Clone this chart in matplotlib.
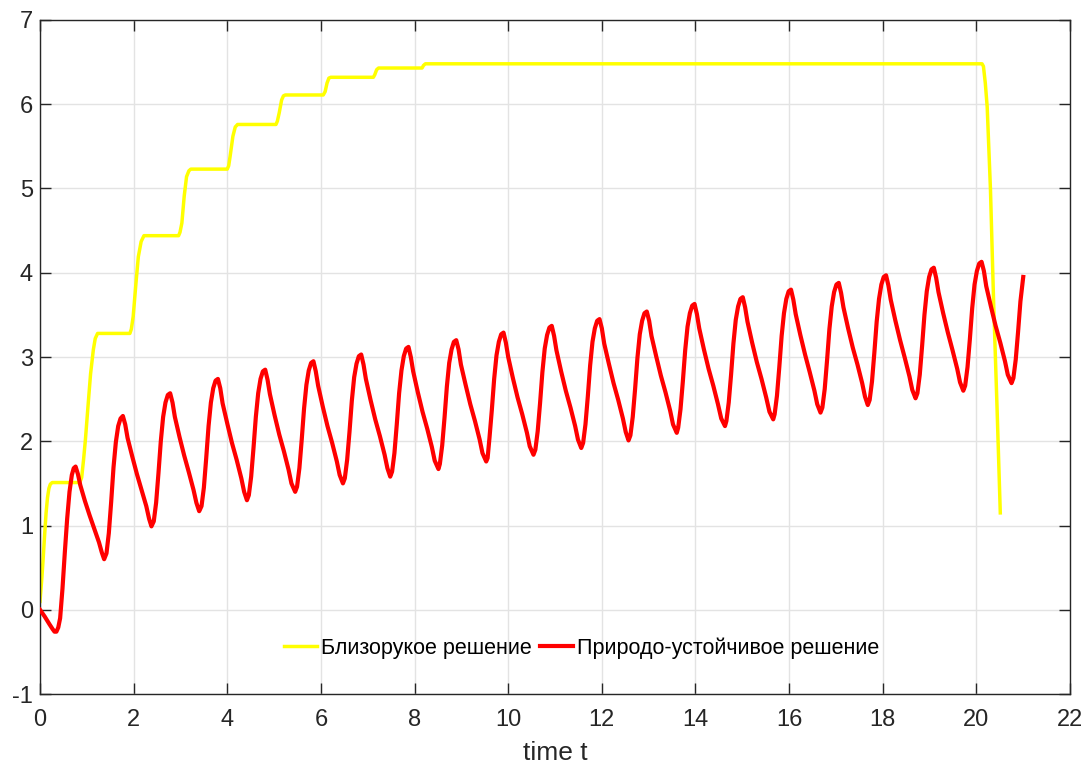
import matplotlib
matplotlib.use('Agg')
import matplotlib.pyplot as plt

plt.rcParams['font.family'] = ['Liberation Sans', 'DejaVu Sans']
plt.rcParams['axes.unicode_minus'] = False

# Близорукое решение
t_myopic = [0.00, 0.04, 0.07, 0.10, 0.13, 0.16, 0.19, 0.22, 0.26,
            0.85, 0.89, 0.93, 0.97, 1.03, 1.08, 1.14, 1.18, 1.23,
            1.92, 1.95, 1.99, 2.05, 2.10, 2.16, 2.22,
            2.96, 2.99, 3.03, 3.08, 3.13, 3.18, 3.22,
            4.00, 4.03, 4.06, 4.12, 4.17, 4.22,
            5.04, 5.07, 5.11, 5.16, 5.20, 5.24,
            6.05, 6.09, 6.13, 6.17, 6.21,
            7.12, 7.15, 7.19, 7.23,
            8.16, 8.19, 8.23,
            20.12, 20.15, 20.19, 20.23, 20.30, 20.37, 20.44, 20.51]
y_myopic = [0.10, 0.38, 0.63, 0.90, 1.15, 1.33, 1.44, 1.49, 1.51,
            1.51, 1.57, 1.78, 2.02, 2.45, 2.80, 3.09, 3.22, 3.28,
            3.28, 3.33, 3.48, 3.88, 4.19, 4.37, 4.44,
            4.44, 4.48, 4.59, 4.91, 5.14, 5.21, 5.23,
            5.23, 5.27, 5.38, 5.62, 5.73, 5.76,
            5.76, 5.80, 5.90, 6.05, 6.10, 6.11,
            6.11, 6.15, 6.25, 6.31, 6.32,
            6.32, 6.35, 6.41, 6.43,
            6.43, 6.46, 6.48,
            6.48, 6.45, 6.25, 5.97, 4.99, 3.60, 2.41, 1.15]

# Природо-устойчивое решение
t_sustain = [0.00, 0.10, 0.20, 0.27, 0.31, 0.35, 0.39, 0.43, 0.48, 0.53, 0.58, 0.63, 0.68, 0.72, 0.76, 0.81, 0.86, 0.96, 1.06, 1.16, 1.26, 1.32,
             1.37, 1.42, 1.47, 1.52, 1.57, 1.62, 1.67, 1.72, 1.77, 1.82, 1.87, 1.97, 2.07, 2.17, 2.27, 2.33,
             2.38, 2.43, 2.48, 2.53, 2.58, 2.63, 2.68, 2.73, 2.78, 2.83, 2.88, 2.98, 3.08, 3.18, 3.28, 3.34,
             3.40, 3.45, 3.50, 3.55, 3.60, 3.65, 3.70, 3.75, 3.80, 3.85, 3.90, 4.00, 4.10, 4.20, 4.30, 4.36,
             4.42, 4.46, 4.51, 4.56, 4.61, 4.66, 4.71, 4.76, 4.81, 4.86, 4.91, 5.01, 5.11, 5.21, 5.31, 5.37,
             5.45, 5.49, 5.54, 5.59, 5.64, 5.69, 5.74, 5.79, 5.84, 5.89, 5.94, 6.04, 6.14, 6.24, 6.34, 6.40,
             6.47, 6.51, 6.56, 6.61, 6.66, 6.71, 6.76, 6.81, 6.86, 6.91, 6.96, 7.06, 7.16, 7.26, 7.36, 7.42,
             7.48, 7.52, 7.57, 7.62, 7.67, 7.72, 7.77, 7.82, 7.87, 7.92, 7.97, 8.07, 8.17, 8.27, 8.37, 8.43,
             8.51, 8.54, 8.59, 8.64, 8.69, 8.74, 8.79, 8.84, 8.89, 8.94, 8.99, 9.09, 9.19, 9.29, 9.39, 9.45,
             9.53, 9.56, 9.60, 9.65, 9.70, 9.75, 9.80, 9.85, 9.90, 9.95, 10.00, 10.10, 10.20, 10.30, 10.40, 10.46,
             10.54, 10.58, 10.63, 10.68, 10.73, 10.78, 10.83, 10.88, 10.93, 10.98, 11.03, 11.13, 11.23, 11.33, 11.43, 11.49,
             11.56, 11.60, 11.65, 11.70, 11.75, 11.80, 11.85, 11.90, 11.95, 12.00, 12.05, 12.15, 12.25, 12.35, 12.45, 12.51,
             12.57, 12.61, 12.66, 12.71, 12.76, 12.81, 12.86, 12.91, 12.96, 13.01, 13.06, 13.16, 13.26, 13.36, 13.46, 13.52,
             13.60, 13.63, 13.68, 13.73, 13.78, 13.83, 13.88, 13.93, 13.98, 14.03, 14.08, 14.18, 14.28, 14.38, 14.48, 14.55,
             14.63, 14.66, 14.71, 14.76, 14.81, 14.86, 14.91, 14.96, 15.01, 15.06, 15.11, 15.21, 15.31, 15.41, 15.51, 15.58,
             15.66, 15.69, 15.74, 15.79, 15.84, 15.89, 15.94, 15.99, 16.04, 16.09, 16.14, 16.24, 16.34, 16.44, 16.54, 16.60,
             16.67, 16.71, 16.76, 16.81, 16.86, 16.91, 16.96, 17.01, 17.06, 17.11, 17.16, 17.26, 17.36, 17.46, 17.56, 17.62,
             17.68, 17.72, 17.77, 17.82, 17.87, 17.92, 17.97, 18.02, 18.07, 18.12, 18.17, 18.27, 18.37, 18.47, 18.57, 18.63,
             18.70, 18.74, 18.79, 18.84, 18.89, 18.94, 18.99, 19.04, 19.09, 19.14, 19.19, 19.29, 19.39, 19.49, 19.59, 19.65,
             19.72, 19.76, 19.81, 19.86, 19.91, 19.96, 20.01, 20.06, 20.11, 20.16, 20.21, 20.31, 20.41, 20.51, 20.61, 20.67,
             20.75, 20.79, 20.84, 20.89, 20.94, 21.00]
y_sustain = [0.00, -0.08, -0.17, -0.23, -0.26, -0.26, -0.21, -0.10, 0.25, 0.68, 1.08, 1.40, 1.60, 1.68, 1.70, 1.61, 1.48, 1.29, 1.12, 0.96, 0.80, 0.68,
             0.60, 0.67, 0.91, 1.28, 1.69, 1.99, 2.18, 2.27, 2.30, 2.20, 2.04, 1.82, 1.61, 1.42, 1.23, 1.08,
             0.99, 1.05, 1.27, 1.62, 2.00, 2.29, 2.46, 2.55, 2.57, 2.46, 2.29, 2.05, 1.83, 1.63, 1.42, 1.27,
             1.17, 1.23, 1.45, 1.80, 2.18, 2.46, 2.63, 2.72, 2.74, 2.63, 2.45, 2.21, 1.98, 1.78, 1.56, 1.40,
             1.30, 1.36, 1.58, 1.92, 2.29, 2.57, 2.74, 2.83, 2.85, 2.73, 2.56, 2.31, 2.08, 1.88, 1.66, 1.50,
             1.40, 1.46, 1.68, 2.02, 2.39, 2.67, 2.84, 2.93, 2.95, 2.83, 2.66, 2.41, 2.18, 1.98, 1.76, 1.60,
             1.50, 1.56, 1.78, 2.11, 2.48, 2.76, 2.92, 3.01, 3.03, 2.91, 2.74, 2.49, 2.26, 2.06, 1.84, 1.68,
             1.58, 1.64, 1.86, 2.20, 2.57, 2.84, 3.01, 3.10, 3.12, 3.00, 2.83, 2.58, 2.35, 2.15, 1.93, 1.77,
             1.67, 1.73, 1.95, 2.28, 2.65, 2.93, 3.09, 3.18, 3.20, 3.09, 2.91, 2.67, 2.44, 2.24, 2.02, 1.86,
             1.76, 1.80, 2.04, 2.37, 2.74, 3.02, 3.18, 3.27, 3.29, 3.17, 3.00, 2.75, 2.52, 2.32, 2.10, 1.94,
             1.84, 1.90, 2.12, 2.45, 2.82, 3.10, 3.26, 3.35, 3.37, 3.25, 3.08, 2.83, 2.60, 2.40, 2.18, 2.02,
             1.92, 1.98, 2.20, 2.53, 2.90, 3.18, 3.34, 3.43, 3.45, 3.34, 3.16, 2.92, 2.69, 2.49, 2.27, 2.11,
             2.01, 2.07, 2.29, 2.62, 2.99, 3.27, 3.43, 3.52, 3.54, 3.43, 3.25, 3.01, 2.78, 2.58, 2.36, 2.20,
             2.10, 2.16, 2.38, 2.71, 3.08, 3.36, 3.52, 3.61, 3.63, 3.51, 3.34, 3.09, 2.86, 2.66, 2.44, 2.27,
             2.18, 2.24, 2.46, 2.79, 3.16, 3.44, 3.60, 3.69, 3.71, 3.59, 3.42, 3.17, 2.94, 2.74, 2.52, 2.35,
             2.26, 2.32, 2.54, 2.88, 3.25, 3.52, 3.69, 3.78, 3.80, 3.68, 3.51, 3.26, 3.03, 2.82, 2.60, 2.44,
             2.34, 2.40, 2.62, 2.96, 3.33, 3.60, 3.77, 3.86, 3.88, 3.76, 3.59, 3.34, 3.11, 2.91, 2.69, 2.53,
             2.43, 2.49, 2.71, 3.05, 3.42, 3.69, 3.86, 3.95, 3.97, 3.85, 3.68, 3.43, 3.20, 2.99, 2.77, 2.61,
             2.51, 2.57, 2.79, 3.13, 3.50, 3.78, 3.95, 4.04, 4.06, 3.94, 3.77, 3.52, 3.29, 3.08, 2.86, 2.70,
             2.60, 2.66, 2.88, 3.21, 3.58, 3.86, 4.02, 4.11, 4.13, 4.02, 3.84, 3.60, 3.37, 3.17, 2.95, 2.79,
             2.69, 2.75, 2.97, 3.30, 3.66, 3.95]

labels = ['Близорукое решение', 'Природо-устойчивое решение']
x_ticks = [0, 2, 4, 6, 8, 10, 12, 14, 16, 18, 20, 22]
y_ticks = [-1, 0, 1, 2, 3, 4, 5, 6, 7]

fig = plt.figure(figsize=(10.9, 7.63), dpi=100)
ax = fig.add_axes([0.0367, 0.0904, 0.945, 0.8834])

ax.plot(t_myopic, y_myopic, color='#FFFF00', lw=2.5, label=labels[0],
        solid_joinstyle='round', zorder=2)
ax.plot(t_sustain, y_sustain, color='#FF0000', lw=3.0, label=labels[1],
        solid_joinstyle='round', zorder=3)

ax.set_xlim(0, 22)
ax.set_ylim(-1, 7)
ax.set_xticks(x_ticks)
ax.set_yticks(y_ticks)
ax.grid(True, color='#e3e3e3', lw=1.0)
ax.set_axisbelow(True)

for s in ax.spines.values():
    s.set_color('#262626')
    s.set_linewidth(1.0)
ax.tick_params(direction='in', length=8, width=1.0, colors='#262626',
               top=True, right=True, labelsize=17)
ax.tick_params(axis='x', pad=11)
ax.tick_params(axis='y', pad=5)

ax.set_xlabel('time t', fontsize=19, color='#262626', labelpad=7)

ax.legend(loc='center', bbox_to_anchor=(0.526, 0.068), ncol=2, frameon=False,
          fontsize=15.5, handlelength=1.5, handletextpad=0.2, columnspacing=0.4)

fig.savefig('out.png', dpi=100)
